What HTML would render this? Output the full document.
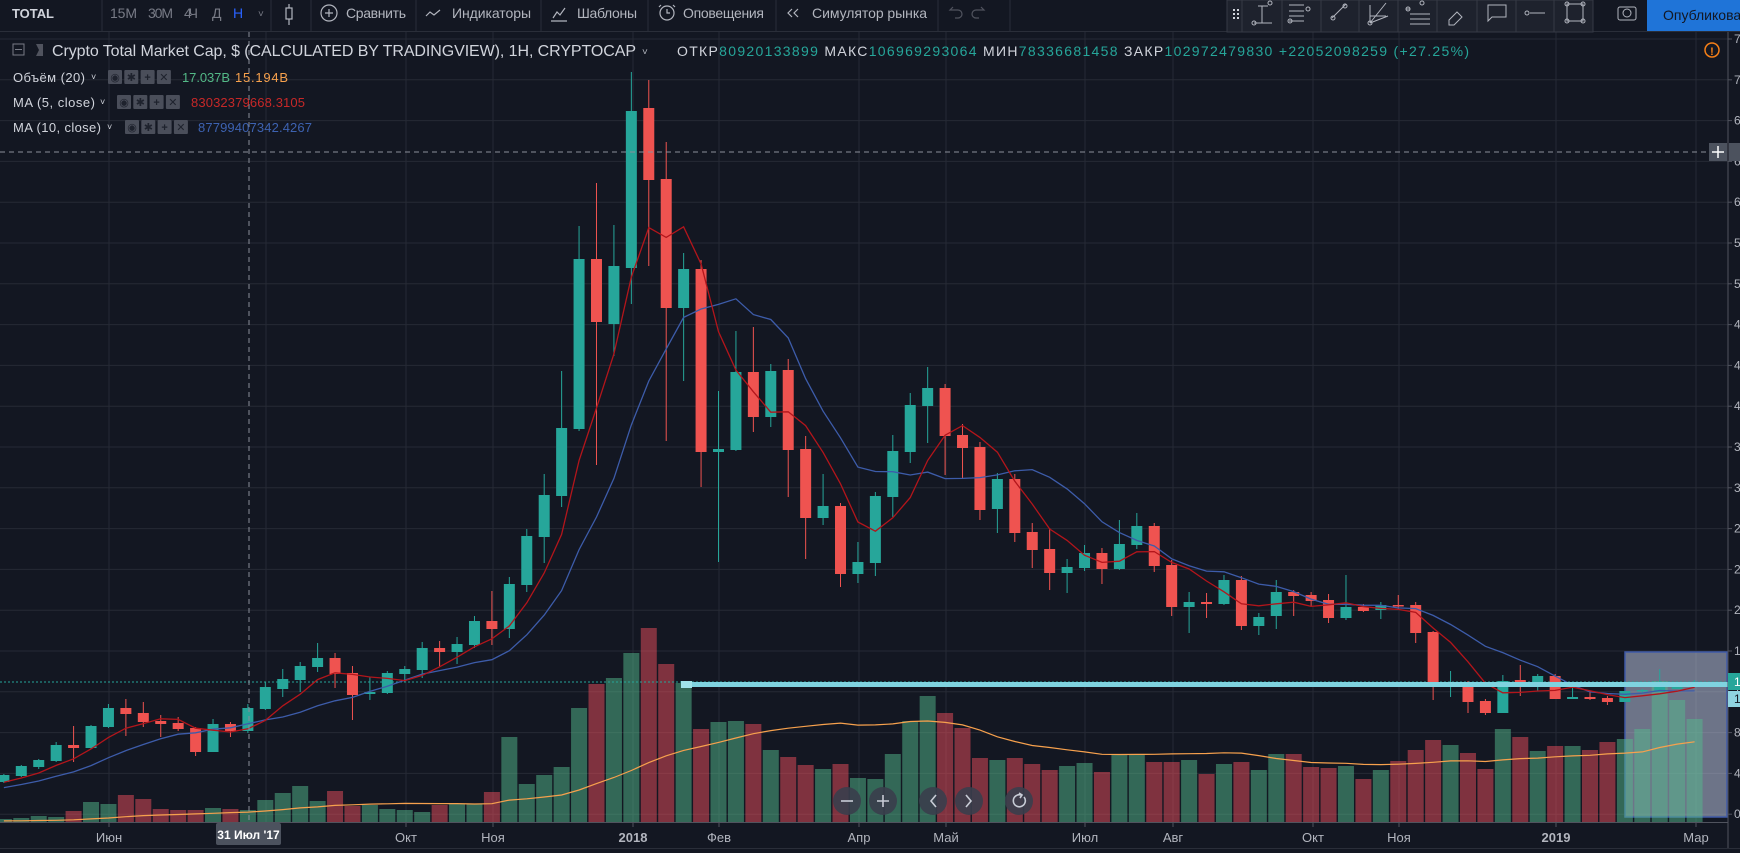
<!DOCTYPE html>
<html><head><meta charset="utf-8">
<style>
html,body{margin:0;padding:0;background:#131722;overflow:hidden;}
svg{display:block;font-family:"Liberation Sans","DejaVu Sans",sans-serif;}
</style></head>
<body>
<svg id="s" width="1740" height="853" viewBox="0 0 1740 853" xmlns="http://www.w3.org/2000/svg">
<rect x="0" y="0" width="1740" height="853" fill="#131722"/>
<g id="grid"></g>
<rect x="1625" y="652" width="102" height="165" fill="rgba(199,209,238,0.5)" stroke="#3f5aa8" stroke-width="1.5"/>
<g id="vol"></g>
<g id="volma"></g>
<line x1="0" y1="682" x2="1728" y2="682" stroke="#26a69a" stroke-width="1" stroke-dasharray="2,2"/>
<g id="candles"></g>
<g id="ma"></g>
<rect x="681" y="682" width="1047" height="5" fill="#7fd3e0"/>
<rect x="681" y="681" width="11" height="7" fill="#9fe3ea"/>
<line x1="249" y1="32" x2="249" y2="822" stroke="#8b8f9a" stroke-dasharray="5,4"/>
<line x1="0" y1="152" x2="1728" y2="152" stroke="#8b8f9a" stroke-dasharray="5,4"/>
<line x1="1728" y1="32" x2="1728" y2="848" stroke="#50535e"/>
<line x1="0" y1="822.5" x2="1728" y2="822.5" stroke="#50535e"/>
<line x1="0" y1="848.5" x2="1740" y2="848.5" stroke="#2a2e39"/>
<g id="ptick" font-size="12" fill="#b2b5be"></g>
<rect x="1728" y="673" width="12" height="17" fill="#26a69a"/>
<text x="1734" y="686" font-size="12" fill="#fff">1</text>
<rect x="1728" y="691" width="12" height="16" fill="#8fd3e0"/>
<text x="1734" y="703" font-size="12" fill="#131722">1</text>
<rect x="1709" y="143" width="18" height="18" fill="#4c525e"/>
<path d="M1712 152h12M1718 146v12" stroke="#fff" stroke-width="1.5"/>
<rect x="1729" y="143" width="11" height="18" fill="#4c525e"/>
<circle cx="1712" cy="50" r="7" fill="none" stroke="#f57f17" stroke-width="1.5"/>
<text x="1712" y="55" font-size="11" fill="#f57f17" text-anchor="middle" font-weight="bold">!</text>
<g font-size="13" fill="#b2b5be" text-anchor="middle">
<text x="109" y="842">Июн</text>
<text x="406" y="842">Окт</text>
<text x="493" y="842">Ноя</text>
<text x="633" y="842" font-weight="bold">2018</text>
<text x="719" y="842">Фев</text>
<text x="859" y="842">Апр</text>
<text x="946" y="842">Май</text>
<text x="1085" y="842">Июл</text>
<text x="1173" y="842">Авг</text>
<text x="1313" y="842">Окт</text>
<text x="1399" y="842">Ноя</text>
<text x="1556" y="842" font-weight="bold">2019</text>
<text x="1696" y="842">Мар</text>
</g>
<rect x="216" y="823" width="65" height="22" rx="2" fill="#4c525e"/>
<text x="248.5" y="839" font-size="12" font-weight="bold" fill="#fff" text-anchor="middle">31 Июл '17</text>
<g fill="rgba(58,62,76,0.9)">
<circle cx="847" cy="801" r="14"/><circle cx="883" cy="801" r="14"/><circle cx="933" cy="801" r="14"/><circle cx="969" cy="801" r="14"/><circle cx="1019" cy="801" r="14"/>
</g>
<g stroke="#c8ccd6" stroke-width="1.6" fill="none">
<path d="M841 801h12"/><path d="M877 801h12M883 795v12"/><path d="M936 795l-5 6l5 6"/><path d="M966 795l5 6l-5 6"/>
<path d="M1024 797a6 6 0 1 1 -3 -2"/><path d="M1019 793l3 2l-2 3"/>
</g>
<rect x="0" y="0" width="1740" height="31" fill="#131722"/>
<line x1="0" y1="31.5" x2="1740" y2="31.5" stroke="#2a2e39"/>
<g stroke="#2a2e39">
<line x1="102" y1="0" x2="102" y2="31"/><line x1="271" y1="0" x2="271" y2="31"/><line x1="311" y1="0" x2="311" y2="31"/>
<line x1="416" y1="0" x2="416" y2="31"/><line x1="541" y1="0" x2="541" y2="31"/><line x1="648" y1="0" x2="648" y2="31"/>
<line x1="776" y1="0" x2="776" y2="31"/><line x1="938" y1="0" x2="938" y2="31"/><line x1="1010" y1="0" x2="1010" y2="31"/>
</g>
<g font-size="14" fill="#b2b5be">
<text x="12" y="18" font-weight="bold" fill="#d1d4dc" font-size="13" textLength="42">TOTAL</text>
<text x="110" y="18" fill="#787b86" textLength="27">15M</text>
<text x="148" y="18" fill="#787b86" textLength="25">30M</text>
<text x="184" y="18" fill="#787b86" textLength="14">4Ч</text>
<text x="212" y="18" fill="#787b86">Д</text>
<text x="233" y="18" fill="#2962ff">Н</text>
<text x="258" y="17" fill="#787b86" font-size="10">˅</text>
<text x="346" y="18" textLength="60">Сравнить</text>
<text x="452" y="18" textLength="79">Индикаторы</text>
<text x="577" y="18" textLength="60">Шаблоны</text>
<text x="683" y="18" textLength="81">Оповещения</text>
<text x="812" y="18" textLength="115">Симулятор рынка</text>
</g>
<g stroke="#b2b5be" fill="none" stroke-width="1.2">
<rect x="286" y="8" width="6" height="11"/><line x1="289" y1="4" x2="289" y2="8"/><line x1="289" y1="19" x2="289" y2="25"/>
<circle cx="329" cy="13" r="8"/><path d="M325 13h8M329 9v8"/>
<path d="M426 16l4-4l4 3l6-5"/>
<path d="M553 18l4-6l3 3l5-7M551 21h16"/>
<circle cx="667" cy="13" r="7"/><path d="M667 9v4h3M661 5l-2 2M673 5l2 2"/>
<path d="M792 9l-4 4l4 4M798 9l-4 4l4 4"/>
<path d="M956 10h-6l3-3M950 10h8a4 4 0 0 1 0 8h-3" stroke="#50535e"/>
<path d="M978 10h6l-3-3M984 10h-8a4 4 0 0 0 0 8h3" stroke="#50535e"/>
</g>
<rect x="1227" y="0" width="366" height="32" fill="#1e222d" stroke="#363a45"/>
<g stroke="#363a45"><line x1="1242" y1="0" x2="1242" y2="32"/><line x1="1282" y1="0" x2="1282" y2="32"/><line x1="1321" y1="0" x2="1321" y2="32"/><line x1="1359" y1="0" x2="1359" y2="32"/><line x1="1398" y1="0" x2="1398" y2="32"/><line x1="1437" y1="0" x2="1437" y2="32"/><line x1="1477" y1="0" x2="1477" y2="32"/><line x1="1516" y1="0" x2="1516" y2="32"/><line x1="1554" y1="0" x2="1554" y2="32"/></g>
<g fill="#d1d4dc"><rect x="1233" y="9" width="2" height="2"/><rect x="1237" y="9" width="2" height="2"/><rect x="1233" y="13" width="2" height="2"/><rect x="1237" y="13" width="2" height="2"/><rect x="1233" y="17" width="2" height="2"/><rect x="1237" y="17" width="2" height="2"/></g>
<g stroke="#b2b5be" fill="none" stroke-width="1">
<path d="M1262 6v17M1254 23h18M1258 6h10"/><circle cx="1254" cy="23" r="2"/><circle cx="1270" cy="3" r="2"/>
<path d="M1289 5h15M1289 11h15M1289 16h15M1289 21h15"/><circle cx="1308" cy="9" r="2"/><circle cx="1290" cy="21" r="2"/>
<path d="M1332 18l14-14"/><circle cx="1333" cy="18" r="2"/><circle cx="1345" cy="6" r="2"/>
<path d="M1370 23l16-20M1370 23l18-7M1370 23v-18M1370 16h16"/><circle cx="1370" cy="23" r="2"/>
<path d="M1410 9h-4M1410 14h20M1410 19h20M1410 24h20"/><circle cx="1408" cy="9" r="2"/><circle cx="1422" cy="3" r="2"/>
<path d="M1449 20l8-8l5 5l-8 8h-5z"/>
<path d="M1488 5h18v12h-14l-4 4z"/>
<path d="M1530 13h15"/><circle cx="1527" cy="13" r="2"/>
<rect x="1567" y="4" width="16" height="17"/><circle cx="1567" cy="4" r="2"/><circle cx="1583" cy="4" r="2"/><circle cx="1567" cy="21" r="2"/><circle cx="1583" cy="21" r="2"/>
<rect x="1618" y="7" width="18" height="13" rx="2"/><circle cx="1627" cy="13" r="4"/>
</g>
<rect x="1647" y="0" width="93" height="31" fill="#1f74d8"/>
<text x="1663" y="20" font-size="14" fill="#131722">Опубликовать</text>
<rect x="13" y="44" width="11" height="11" fill="none" stroke="#787b86"/>
<line x1="15" y1="49.5" x2="22" y2="49.5" stroke="#787b86"/>
<path d="M36 44h7v12h-7l3-6z" fill="#50535e"/>
<text x="52" y="56" font-size="16" fill="#d1d4dc" textLength="584">Crypto Total Market Cap, $ (CALCULATED BY TRADINGVIEW), 1H, CRYPTOCAP</text>
<text x="642" y="55" font-size="10" fill="#b2b5be">˅</text>
<text x="677" y="56" font-size="14" fill="#26a69a" textLength="792"><tspan fill="#d1d4dc">ОТКР</tspan>80920133899  <tspan fill="#d1d4dc">МАКС</tspan>106969293064  <tspan fill="#d1d4dc">МИН</tspan>78336681458  <tspan fill="#d1d4dc">ЗАКР</tspan>102972479830  +22052098259 (+27.25%)</text>
<g font-size="13" fill="#d1d4dc">
<text x="13" y="82" textLength="72">Объём (20)</text><text x="91" y="80" font-size="9">˅</text>
<text x="13" y="107" textLength="82">MA (5, close)</text><text x="100" y="105" font-size="9">˅</text>
<text x="13" y="132" textLength="88">MA (10, close)</text><text x="107" y="130" font-size="9">˅</text>
<text x="182" y="82" fill="#53b987" textLength="48">17.037B</text>
<text x="235" y="82" fill="#f7a14d" textLength="53">15.194B</text>
<text x="191" y="107" fill="#c62828" textLength="114">83032379668.3105</text>
<text x="198" y="132" fill="#3d62b0" textLength="114">87799407342.4267</text>
</g>
<g id="boxes"></g>
</svg>
<script>
(function(){
var NS="http://www.w3.org/2000/svg";
function el(p,t,a){var e=document.createElementNS(NS,t);for(var k in a)e.setAttribute(k,a[k]);p.appendChild(e);return e;}
var G=function(id){return document.getElementById(id);};
var grid=G("grid");
for(var k=0;k<20;k++){var y=39+40.8*k;el(grid,"line",{x1:0,y1:y,x2:1728,y2:y,stroke:"#262a35","stroke-width":1});}
[109,266,406,493,633,719,859,946,1085,1173,1313,1399,1556,1696].forEach(function(x){el(grid,"line",{x1:x,y1:32,x2:x,y2:822,stroke:"#262a35"});
 el(grid,"line",{x1:x,y1:822,x2:x,y2:827,stroke:"#50535e"});});
var digs=["7","7","6","6","6","5","5","4","4","4","3","3","2","2","2","1","1","8","4","0"];
var pt=G("ptick");
for(var k=0;k<20;k++){var y=39+40.8*k;el(pt,"line",{x1:1728,y1:y,x2:1732,y2:y,stroke:"#50535e"});
 var t=el(pt,"text",{x:1734,y:y+4});t.textContent=digs[k]+"00";}
var C=[
["G",775,782,774,783],["G",766,776,765,777],["G",760,767,759,769],["G",745,761,742,762],["R",745,748,726,762],["G",726,748,725,749],["G",708,727,704,728],["R",708,714,699,736],["R",713,722,702,727],["R",721,724,715,737],["R",723,729,717,731],["R",728,752,727,756],["G",724,752,719,752],["R",724,731,722,737],["G",708,731,704,733],["G",687,709,682,710],["G",679,689,669,697],["G",666,680,662,692],["G",658,667,643,672],["R",658,674,653,688],["R",673,695,666,720],["G",692,694,677,700],["G",673,693,671,694],["G",669,674,666,682],["G",648,670,642,678],["R",648,652,641,667],["G",644,652,637,664],["G",621,645,616,648],["R",621,629,591,645],["G",584,629,577,638],
["G",536,585,529,592],["G",495,537,474,563],["G",428,496,371,507],["G",259,429,226,431],["R",259,322,183,465],["G",266,324,225,356],["G",111,268,72,304],["R",108,180,80,266],["R",179,308,142,441],["G",269,308,253,381],["R",269,452,260,487],["G",449,452,391,562],["G",372,450,331,451],["R",372,417,327,432],["G",371,417,364,427],["R",370,450,359,497],["R",449,518,436,559],["G",506,518,474,525],["R",506,574,503,587],["G",562,574,542,583],["G",496,563,492,576],["G",451,497,435,517],["G",405,452,393,463],["G",388,406,367,443],
["R",388,436,384,475],["R",435,448,424,479],["R",447,510,442,520],["G",479,509,473,533],["R",479,533,474,542],["R",532,550,523,568],["R",549,573,528,590],["G",567,573,559,593],["G",553,568,545,571],["R",553,569,548,584],["G",544,569,520,570],["G",526,545,513,549],["R",526,566,523,572],["R",565,607,560,616],["G",602,607,592,633],["R",602,604,593,618],["G",580,604,575,605],["R",580,626,576,630],["G",617,626,613,635],["G",592,616,580,629],["R",592,596,590,616],["R",595,601,592,607],["R",600,618,594,623],["G",607,618,575,620],["R",607,611,604,612],["G",605,610,602,619],["R",605,606,595,610],
["R",605,633,602,643],["R",632,685,631,700],["G",683,685,671,697],["R",682,702,681,713],["R",701,713,699,715],["G",681,713,675,713],["R",680,683,665,696],["G",676,683,674,691],["R",676,699,674,699],["G",697,699,687,699],["R",697,699,692,700],["R",698,702,696,705],["G",691,702,691,702],["G",690,691,689,694],["G",687,692,669,692],["G",686,689,682,689],["G",682,686,680,686]];
var V=[819,818,816,817,811,802,804,795,799,809,810,810,808,809,810,800,793,786,801,791,806,805,809,810,812,805,804,804,792,737,784,775,767,708,684,678,653,628,664,683,729,722,721,724,750,757,765,769,764,778,779,754,721,696,713,728,758,760,758,764,770,766,763,772,755,755,762,762,760,774,764,762,770,754,754,767,768,766,779,770,761,750,740,745,753,769,729,737,751,746,746,750,742,739,729,681,700,719];
function X(j){return 21.3+17.43*(j-1);}
var vg=G("vol"),cg=G("candles");
for(var j=0;j<C.length;j++){var c=C[j],x=X(j),g=c[0]=="G";
 el(vg,"rect",{x:x-8,y:V[j],width:16,height:822-V[j],fill:g?"rgba(83,185,140,0.5)":"rgba(235,77,92,0.5)"});
 var col=g?"#26a69a":"#ef5350";
 el(cg,"line",{x1:x,y1:c[3],x2:x,y2:c[4],stroke:col,"stroke-width":1});
 el(cg,"rect",{x:x-5.5,y:c[1],width:11,height:Math.max(1.5,c[2]-c[1]),fill:col});}
var cl=[797,795,793,791,789,787,785,783,781];
C.forEach(function(c){cl.push(c[0]=="G"?c[1]:c[2]);});
function ma(arr,n,off){var pts=[];for(var j=0;j<C.length;j++){var i=j+off,s=0;for(var q=0;q<n;q++)s+=arr[i-q];pts.push(X(j).toFixed(1)+","+(s/n).toFixed(1));}return pts.join(" ");}
var mg=G("ma");
el(mg,"polyline",{points:ma(cl,10,9),fill:"none",stroke:"#3d5caa","stroke-width":1.3});
el(mg,"polyline",{points:ma(cl,5,9),fill:"none",stroke:"#b3151b","stroke-width":1.3});
var vv=[];for(var q=0;q<19;q++)vv.push(821);vv=vv.concat(V);
el(G("volma"),"polyline",{points:ma(vv,20,19),fill:"none",stroke:"#f7a14d","stroke-width":1.2});
var bx=G("boxes");
[[108,77],[117,102],[125,127]].forEach(function(r){for(var q=0;q<4;q++){var x=r[0]+q*16.3;
 el(bx,"rect",{x:x,y:r[1]-7,width:14,height:14,rx:1,fill:"#4a4e5a"});
 var t=el(bx,"text",{x:x+7,y:r[1]+4,"font-size":11,"text-anchor":"middle",fill:"#1e222d","font-weight":"bold"});
 t.textContent=["◉","✱","+","✕"][q];}});
})();
</script>
</body></html>
